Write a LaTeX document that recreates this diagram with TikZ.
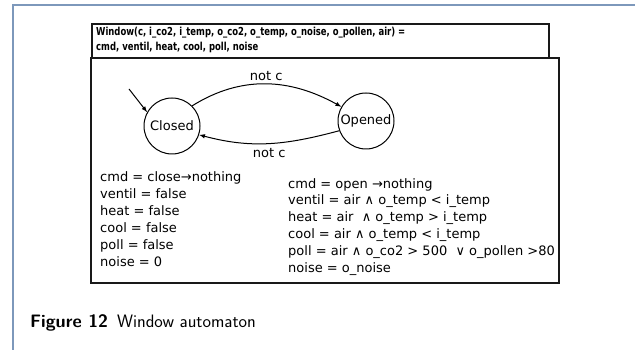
\documentclass[tikz,border=0pt]{standalone}
\usepackage{fontspec}
\setmainfont{DejaVu Sans}
\newfontfamily\hdrfont{DejaVu Sans}[FakeStretch=0.77]
\usepackage{xcolor}
\usetikzlibrary{arrows,automata}
\definecolor{framecol}{RGB}{125,152,187}

\begin{document}
\begin{tikzpicture}[x=1pt,y=1pt]
        \tikzstyle{every node}+=[inner sep=0pt]
        \tikzstyle{loc}=[state,draw=black,line width=1pt,minimum size=56pt,font=\fontsize{13}{15}\selectfont]
        \tikzstyle{box}=[draw=black!90,line width=1.2pt]
        \tikzstyle{txt}=[anchor=north west,align=left,font=\fontsize{13}{17}\selectfont]
        \tikzstyle{trans}=[-latex,line width=1pt]
        \useasboundingbox (0,0) rectangle (635,350);
        % outer frame
        \draw [framecol,line width=1.5pt] (13,0) -- (13,345) -- (635,345);
        % header and body of the automaton
        \draw [box] (92,292) rectangle (549,326);
        \draw [box] (91,67) rectangle (559,292);
        \node [anchor=north west,align=left,font=\hdrfont\bfseries\fontsize{11}{15}\selectfont] (head) at (96,323.5)
          {Window(c, i\_co2, i\_temp, o\_co2, o\_temp, o\_noise, o\_pollen, air) =\\cmd, ventil, heat, cool, poll, noise};
        % states
        \node [loc] (closed) at (172,224) {Closed};
        \node [loc] (opened) at (366,229) {Opened};
        \coordinate (init) at (129,261);
        \draw [trans] (init) -- (closed.151);
        \draw [trans] (closed.45) to[out=32,in=151] node [above=3pt] {\fontsize{13}{15}\selectfont not c} (opened.150);
        \draw [trans] (opened.200) to[out=195,in=-15] node [below=4pt] {\fontsize{13}{15}\selectfont not c} (closed.-18);
        % outputs
        \node [txt] (outclosed) at (100,179)
          {cmd = close→nothing\\ventil = false\\heat = false\\cool = false\\poll = false\\noise = 0};
        \node [txt,font=\fontsize{13}{16.8}\selectfont] (outopened) at (288,172)
          {cmd = open →nothing\\ventil = air ∧ o\_temp < i\_temp\\heat = air \ ∧ o\_temp > i\_temp\\cool = air ∧ o\_temp < i\_temp\\poll = air ∧ o\_co2 > 500 \ ∨ o\_pollen >80\\noise = o\_noise};
        % caption
        \node [anchor=base west,font=\sffamily\fontsize{18}{21}\selectfont] (caption) at (30,22)
          {\textbf{Figure 12}\hspace{9pt}Window automaton};
\end{tikzpicture}
\end{document}
